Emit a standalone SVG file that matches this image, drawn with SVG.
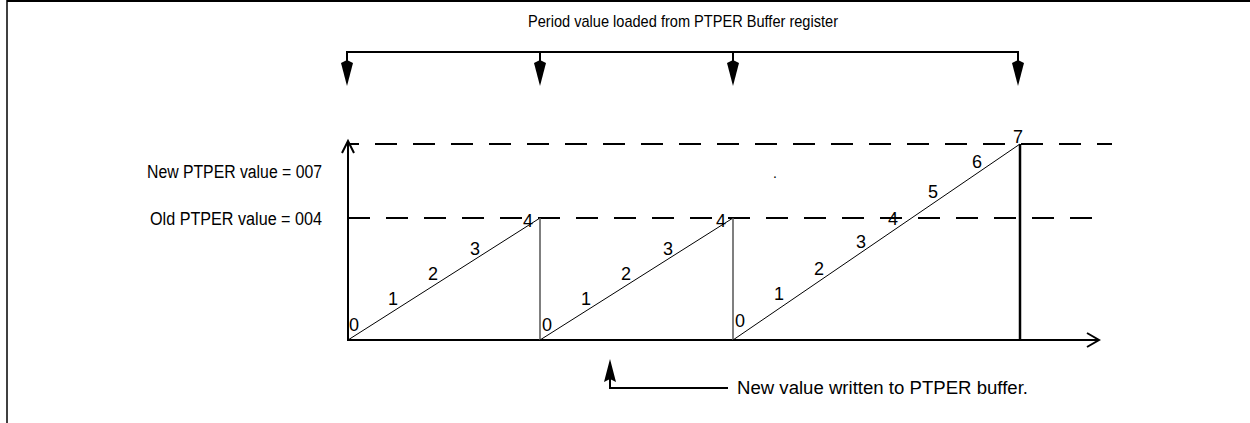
<svg xmlns="http://www.w3.org/2000/svg" width="1250" height="423" viewBox="0 0 1250 423">
<style>
text{font-family:"Liberation Sans",Arial,sans-serif;font-size:18px;fill:#000}
.ax{stroke:#000;stroke-width:2;fill:none}
.dash{stroke:#000;stroke-width:2;stroke-dasharray:22 16;fill:none}
.ramp{stroke:#000;stroke-width:1;fill:none}
.vert{stroke:#555;stroke-width:1.5;fill:none}
.ah{fill:#000;stroke:none}
.mid{text-anchor:middle}
</style>
<defs>
<path id="down" d="M-6,0 L0,-3 L6,0 L0,23 Z"/>
</defs>
<g id="frame">
<line x1="7" y1="1" x2="1250" y2="1" stroke="#000" stroke-width="2"/>
<line x1="7" y1="0" x2="7" y2="423" stroke="#000" stroke-width="1.5"/>
</g>
<g id="title"><text x="528" y="27" style="font-size:17px" textLength="310" lengthAdjust="spacingAndGlyphs">Period value loaded from PTPER Buffer register</text></g>
<g id="connectors">
<path class="ax" d="M347,72 V52 H1018 V72 M540,52 V72 M733,52 V72"/>
<use href="#down" x="347" y="63" class="ah"/>
<use href="#down" x="540" y="63" class="ah"/>
<use href="#down" x="733" y="63" class="ah"/>
<use href="#down" x="1018" y="63" class="ah"/>
<path class="ax" d="M610,375 V388 H728"/>
<path class="ah" d="M610,359 L616,382 L610,379 L604,382 Z"/>
</g>
<g id="axes">
<line class="ax" x1="348" y1="340" x2="348" y2="141"/>
<path class="ax" d="M342,153 L348,141 L354,153"/>
<line class="ax" x1="347" y1="340" x2="1099" y2="340"/>
<path class="ax" d="M1087,333 L1099,340 L1087,347"/>
</g>
<g id="levels">
<line class="dash" x1="348" y1="144" x2="1112" y2="144" stroke-dashoffset="11"/>
<line class="dash" x1="348" y1="218" x2="1102" y2="218" stroke-dashoffset="0"/>
<text x="147" y="178" textLength="175" lengthAdjust="spacingAndGlyphs">New PTPER value = 007</text>
<text x="150" y="225" textLength="172" lengthAdjust="spacingAndGlyphs">Old PTPER value = 004</text>
</g>
<g id="ramps">
<line class="ramp" x1="348" y1="340" x2="540" y2="218"/>
<line class="vert" x1="540" y1="218" x2="540" y2="340"/>
<line class="ramp" x1="540" y1="340" x2="733" y2="218"/>
<line class="vert" x1="733" y1="218" x2="733" y2="340"/>
<line class="ramp" x1="733" y1="340" x2="1020" y2="144"/>
<line x1="1020" y1="144" x2="1020" y2="340" stroke="#000" stroke-width="2.5"/>
</g>
<g id="counts">
<text x="354" y="331" class="mid">0</text>
<text x="393" y="305" class="mid">1</text>
<text x="433" y="280" class="mid">2</text>
<text x="475" y="255" class="mid">3</text>
<text x="528" y="227" class="mid">4</text>
<text x="547" y="331" class="mid">0</text>
<text x="586" y="305" class="mid">1</text>
<text x="626" y="280" class="mid">2</text>
<text x="668" y="255" class="mid">3</text>
<text x="721" y="227" class="mid">4</text>
<text x="740" y="327" class="mid">0</text>
<text x="779" y="300" class="mid">1</text>
<text x="819" y="275" class="mid">2</text>
<text x="861" y="248" class="mid">3</text>
<text x="893" y="225" class="mid">4</text>
<text x="933" y="198" class="mid">5</text>
<text x="977" y="168" class="mid">6</text>
<text x="1018" y="143" class="mid">7</text>
<text x="775" y="178" class="mid" style="font-size:14px">.</text>
</g>
<g id="note"><text x="737" y="394" textLength="291" lengthAdjust="spacingAndGlyphs">New value written to PTPER buffer.</text></g>
</svg>
